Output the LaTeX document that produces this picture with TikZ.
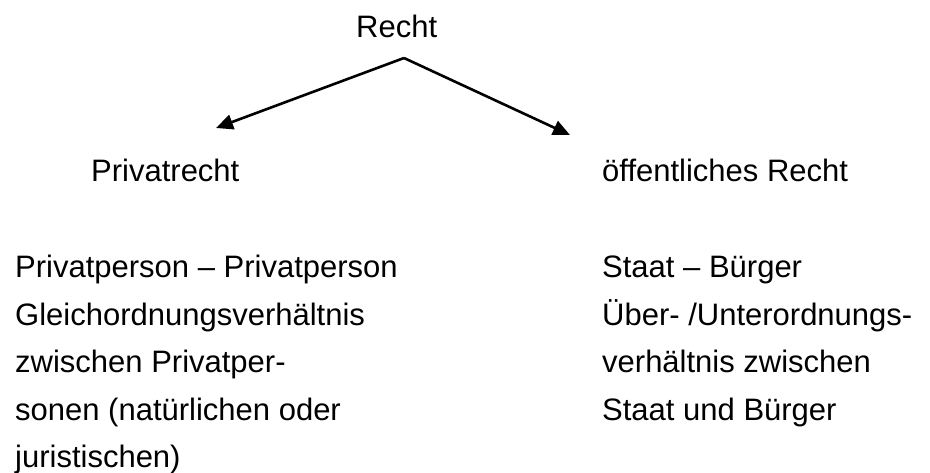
\documentclass[tikz,border=0pt]{standalone}
\usepackage{fontspec}
\setmainfont{Liberation Sans}
\usetikzlibrary{arrows.meta}
\tikzset{
  txt/.style={anchor=base west, inner sep=0pt, font=\fontsize{31}{47.5}\selectfont, text=black},
  arr/.style={line width=2.6pt, -{Triangle[length=17pt,width=15pt]}}
}
\begin{document}
\begin{tikzpicture}[x=1pt,y=-1pt]
\useasboundingbox (0,0) rectangle (930,472);
\node[txt] (recht) at (356,37) {Recht};
\coordinate (apex) at (404,58);
\coordinate (tipL) at (216,128);
\coordinate (tipR) at (570,135);
\draw[arr] (apex) -- (tipL);
\draw[arr] (apex) -- (tipR);
\node[txt] (privat) at (91,181) {Privatrecht};
\node[txt] (oeff) at (602,181) {öffentliches Recht};
\node[txt] (l1) at (15,277) {Privatperson – Privatperson};
\node[txt] (l2) at (15,325) {Gleichordnungsverhältnis};
\node[txt] (l3) at (15,372) {zwischen Privatper-};
\node[txt] (l4) at (15,420) {sonen (natürlichen oder};
\node[txt] (l5) at (15,467) {juristischen)};
\node[txt] (r1) at (602,277) {Staat – Bürger};
\node[txt] (r2) at (602,325) {Über- /Unterordnungs-};
\node[txt] (r3) at (602,372) {verhältnis zwischen};
\node[txt] (r4) at (602,420) {Staat und Bürger};
\end{tikzpicture}
\end{document}
